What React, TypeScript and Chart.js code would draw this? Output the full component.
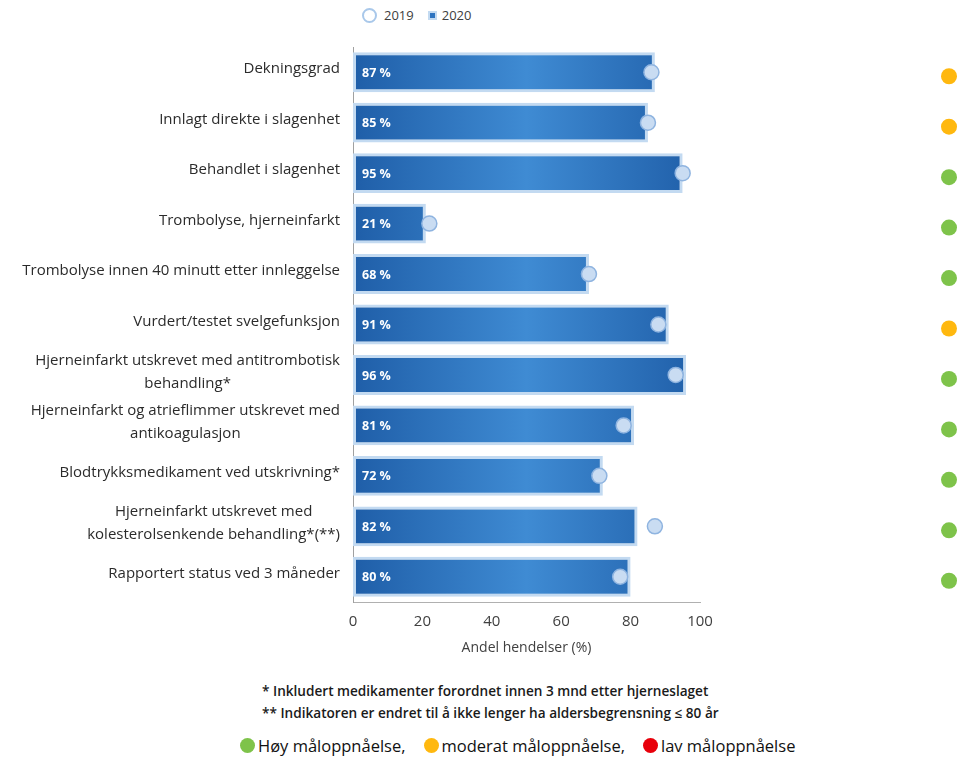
import React, { useEffect, useRef } from 'react';
import { Chart, registerables } from 'chart.js';

Chart.register(...registerables);

const categories: (string | string[])[] = [
  'Dekningsgrad',
  'Innlagt direkte i slagenhet',
  'Behandlet i slagenhet',
  'Trombolyse, hjerneinfarkt',
  'Trombolyse innen 40 minutt etter innleggelse',
  'Vurdert/testet svelgefunksjon',
  ['Hjerneinfarkt utskrevet med antitrombotisk', 'behandling*'],
  ['Hjerneinfarkt og atrieflimmer utskrevet med', 'antikoagulasjon'],
  'Blodtrykksmedikament ved utskrivning*',
  ['Hjerneinfarkt utskrevet med', 'kolesterolsenkende behandling*(**)'],
  'Rapportert status ved 3 måneder',
];

const values2020 = [87, 85, 95, 21, 68, 91, 96, 81, 72, 82, 80];
const values2019 = [86, 85, 95, 22, 68, 88, 93, 78, 71, 87, 77];
const goalStatus = ['moderat', 'moderat', 'høy', 'høy', 'høy', 'moderat', 'høy', 'høy', 'høy', 'høy', 'høy'];
const xTicks = [0, 20, 40, 60, 80, 100];
const seriesNames = ['2019', '2020'];
const axisTitle = 'Andel hendelser (%)';
const footnotes = [
  '* Inkludert medikamenter forordnet innen 3 mnd etter hjerneslaget',
  '** Indikatoren er endret til å ikke lenger ha aldersbegrensning ≤ 80 år',
];
const statusLegend = [
  { key: 'høy', label: 'Høy måloppnåelse,' },
  { key: 'moderat', label: 'moderat måloppnåelse,' },
  { key: 'lav', label: 'lav måloppnåelse' },
];

const STATUS_COLORS: Record<string, string> = {
  høy: '#7ec34a',
  moderat: '#ffb80f',
  lav: '#e8000b',
};

const FONT = '"Open Sans", "DejaVu Sans", sans-serif';

const annotatePlugin = {
  id: 'annotate',
  afterDraw(chart: any) {
    const ctx = chart.ctx;
    const yScale = chart.scales.y;
    const area = chart.chartArea;
    ctx.save();
    // category labels (multi-line centered, block right aligned)
    ctx.font = `15px ${FONT}`;
    ctx.fillStyle = '#2b2b2b';
    ctx.textAlign = 'center';
    ctx.textBaseline = 'middle';
    const labels = chart.data.labels as (string | string[])[];
    const lh = 23;
    labels.forEach((lab, i) => {
      const lines = Array.isArray(lab) ? lab : [lab];
      const w = Math.max(...lines.map((l) => ctx.measureText(l).width));
      const cx = area.left - 13 - w / 2;
      const cy = yScale.getPixelForValue(i) - 3;
      const start = cy - ((lines.length - 1) * lh) / 2;
      lines.forEach((l, j) => ctx.fillText(l, cx, start + j * lh));
    });
    // bar value labels
    const meta = chart.getDatasetMeta(1);
    ctx.font = `bold 12.5px ${FONT}`;
    ctx.fillStyle = '#ffffff';
    ctx.textAlign = 'left';
    meta.data.forEach((bar: any, i: number) => {
      const v = chart.data.datasets[1].data[i];
      ctx.fillText(`${v} %`, bar.base + 9, bar.y + 1);
    });
    // goal status dots
    goalStatus.forEach((s, i) => {
      const y = yScale.getPixelForValue(i) + 4;
      ctx.beginPath();
      ctx.arc(949, y, 8, 0, Math.PI * 2);
      ctx.fillStyle = STATUS_COLORS[s];
      ctx.fill();
    });
    ctx.restore();
  },
};

function barGradient(context: any) {
  const chart = context.chart;
  const area = chart.chartArea;
  if (!area) return '#2e74c0';
  const g = chart.ctx.createLinearGradient(area.left, 0, area.right, 0);
  g.addColorStop(0, '#1f5ea8');
  g.addColorStop(0.5, '#3f8bd3');
  g.addColorStop(1, '#1f5ea8');
  return g;
}

export default function App() {
  const canvasRef = useRef<HTMLCanvasElement | null>(null);

  useEffect(() => {
    if (!canvasRef.current) return;
    const chart = new Chart(canvasRef.current, {
      type: 'bar',
      data: {
        labels: categories as any,
        datasets: [
          {
            type: 'line',
            label: seriesNames[0],
            data: values2019,
            indexAxis: 'y',
            showLine: false,
            pointRadius: 7.5,
            pointBackgroundColor: '#c9dcf2',
            pointBorderColor: '#8fb4e0',
            pointBorderWidth: 1.5,
            borderColor: '#8fb4e0',
            backgroundColor: '#c9dcf2',
          } as any,
          {
            type: 'bar',
            label: seriesNames[1],
            data: values2020,
            backgroundColor: barGradient,
            borderColor: '#c3daf1',
            borderWidth: 3,
            borderSkipped: false,
            barPercentage: 0.79,
            categoryPercentage: 1,
          } as any,
        ],
      },
      options: {
        indexAxis: 'y',
        responsive: false,
        animation: false,
        layout: { padding: { top: 47, right: 263, bottom: 9, left: 0 } },
        plugins: {
          legend: { display: false },
          tooltip: { enabled: false },
        },
        scales: {
          x: {
            type: 'linear',
            min: 0,
            max: 100,
            afterBuildTicks: (s: any) => {
              s.ticks = xTicks.map((v) => ({ value: v }));
            },
            afterFit: (s: any) => {
              s.height = 54;
            },
            ticks: {
              padding: 11,
              color: '#404040',
              font: { family: FONT, size: 15 },
            },
            grid: { display: false, drawTicks: false },
            border: { display: true, color: '#b0b0b0', width: 1 },
            title: {
              display: true,
              text: axisTitle,
              color: '#404040',
              font: { family: FONT, size: 14 },
              padding: { top: 2, bottom: 0 },
            },
          },
          y: {
            type: 'category',
            afterFit: (s: any) => {
              s.width = 353;
            },
            ticks: { display: false },
            grid: { display: false, drawTicks: false },
            border: { display: true, color: '#a0a0a0', width: 1 },
          },
        },
      } as any,
      plugins: [annotatePlugin],
    });
    return () => chart.destroy();
  }, []);

  return (
    <div
      style={{
        position: 'absolute',
        left: 0,
        top: 0,
        width: 963,
        height: 762,
        background: '#ffffff',
        fontFamily: FONT,
        overflow: 'hidden',
      }}
    >
      {/* series legend */}
      <div
        style={{
          position: 'absolute',
          left: 362,
          top: 6,
          height: 18,
          display: 'flex',
          alignItems: 'center',
          fontSize: 13,
          color: '#404040',
        }}
      >
        <span
          style={{
            width: 11,
            height: 11,
            borderRadius: '50%',
            border: '2px solid #a9c8ea',
            background: '#ffffff',
            display: 'inline-block',
            marginRight: 7,
          }}
        />
        <span style={{ marginRight: 14 }}>{seriesNames[0]}</span>
        <span
          style={{
            width: 5,
            height: 5,
            border: '2px solid #c3daf1',
            background: '#2e74c0',
            display: 'inline-block',
            marginRight: 5,
          }}
        />
        <span>{seriesNames[1]}</span>
      </div>

      <canvas
        ref={canvasRef}
        width={963}
        height={665}
        style={{ position: 'absolute', left: 0, top: 0, width: 963, height: 665 }}
      />

      {/* footnotes */}
      <div
        style={{
          position: 'absolute',
          left: 262,
          top: 680,
          fontSize: 13.6,
          fontWeight: 600,
          color: '#1a1a1a',
          lineHeight: '22px',
          whiteSpace: 'nowrap',
        }}
      >
        {footnotes.map((f) => (
          <div key={f}>{f}</div>
        ))}
      </div>

      {/* goal legend */}
      <div
        style={{
          position: 'absolute',
          left: 240,
          top: 734,
          height: 22,
          display: 'flex',
          alignItems: 'center',
          fontSize: 16.5,
          color: '#111111',
          whiteSpace: 'nowrap',
        }}
      >
        {statusLegend.map((s) => (
          <React.Fragment key={s.key}>
            <span
              style={{
                width: 15,
                height: 15,
                borderRadius: '50%',
                background: STATUS_COLORS[s.key],
                display: 'inline-block',
                marginRight: 3,
              }}
            />
            <span style={{ marginRight: 18 }}>{s.label}</span>
          </React.Fragment>
        ))}
      </div>
    </div>
  );
}
